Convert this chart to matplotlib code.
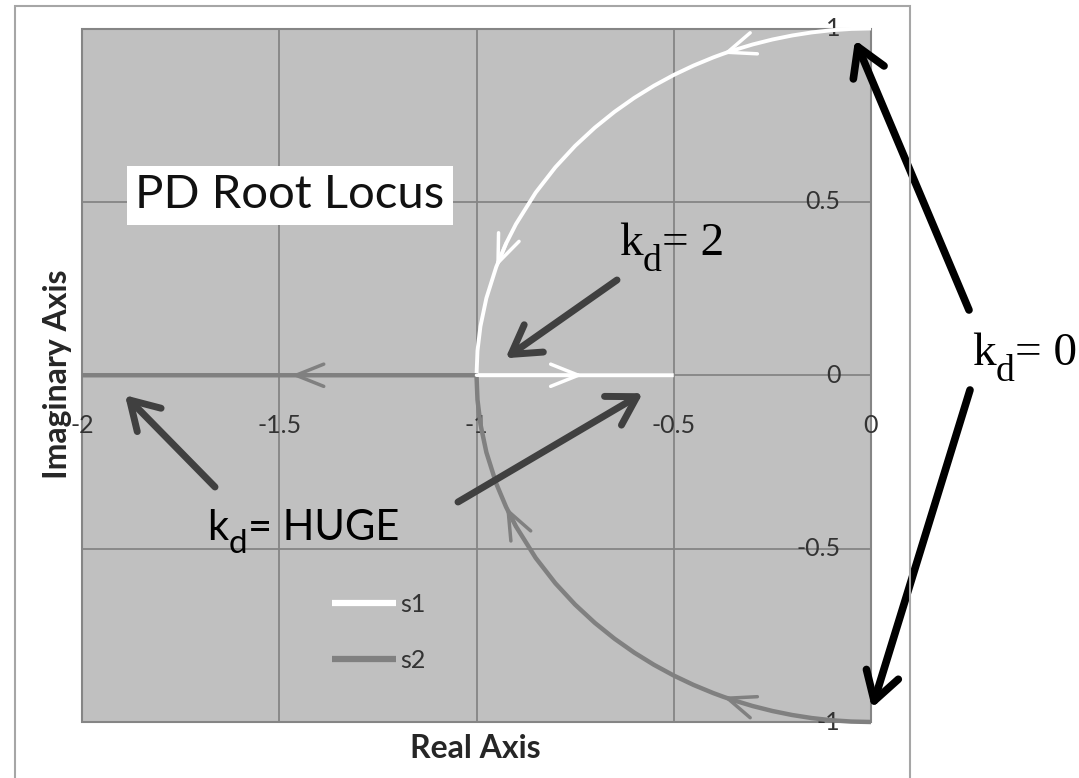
import matplotlib.pyplot as plt
from matplotlib.patches import Rectangle
from matplotlib.transforms import offset_copy

W, H = 1079, 778

# PD root locus: poles of s^2 + kd*s + 1 = 0 for a range of derivative gains
kd = [0, 0.1, 0.2, 0.3, 0.4, 0.5, 0.6, 0.7, 0.75, 0.8, 0.9, 1.0, 1.1, 1.2, 1.3, 1.4,
      1.5, 1.6, 1.7, 1.8, 1.85, 1.9, 1.95, 1.98, 1.995, 2.0,
      2.1, 2.15, 2.2, 2.3, 2.4, 2.5]
s1_re = [0, -0.05, -0.1, -0.15, -0.2, -0.25, -0.3, -0.35, -0.375, -0.4, -0.45, -0.5,
         -0.55, -0.6, -0.65, -0.7, -0.75, -0.8, -0.85, -0.9, -0.925, -0.95, -0.975,
         -0.99, -0.9975, -1.0,
         -0.7298, -0.6805, -0.6417, -0.5821, -0.5367, -0.5]
s1_im = [1.0, 0.99875, 0.99499, 0.98869, 0.9798, 0.96825, 0.95394, 0.93675, 0.92702,
         0.91652, 0.89303, 0.86603, 0.83516, 0.8, 0.75993, 0.71414, 0.66144, 0.6,
         0.52678, 0.43589, 0.37997, 0.31225, 0.2222, 0.14107, 0.07067, 0,
         0, 0, 0, 0, 0, 0]
s2_re = [0, -0.05, -0.1, -0.15, -0.2, -0.25, -0.3, -0.35, -0.375, -0.4, -0.45, -0.5,
         -0.55, -0.6, -0.65, -0.7, -0.75, -0.8, -0.85, -0.9, -0.925, -0.95, -0.975,
         -0.99, -0.9975, -1.0,
         -1.3702, -1.4695, -1.5583, -1.7179, -1.8633, -2.0]
s2_im = [-1.0, -0.99875, -0.99499, -0.98869, -0.9798, -0.96825, -0.95394, -0.93675,
         -0.92702, -0.91652, -0.89303, -0.86603, -0.83516, -0.8, -0.75993, -0.71414,
         -0.66144, -0.6, -0.52678, -0.43589, -0.37997, -0.31225, -0.2222, -0.14107,
         -0.07067, 0,
         0, 0, 0, 0, 0, 0]

# direction arrows along each locus (index pairs: from -> to)
s1_marks = [(7, 8), (20, 21), (25, 26)]
s2_marks = [(7, 8), (19, 20), (26, 27)]

x_ticks = [-2, -1.5, -1, -0.5, 0]
x_labels = ["-2", "-1.5", "-1", "-0.5", "0"]
y_ticks = [1, 0.5, 0, -0.5, -1]
y_labels = ["1", "0.5", "0", "-0.5", "-1"]

plt.rcParams["font.family"] = ["Lato", "DejaVu Sans"]

S1_COL = "white"
S2_COL = "#808080"
ANN_COL = "#404040"
TXT_COL = "#333333"


def fpos(x, y):
    # picture pixels (top-left origin) -> figure fraction
    return x / W, 1 - y / H


fig = plt.figure(figsize=(W / 100, H / 100), dpi=100)
ax = fig.add_axes([82 / W, 1 - 722 / H, 789 / W, 693.5 / H])

# chart area frame
fig.add_artist(Rectangle((15 / W, -0.05), 895 / W, 1.05 - 6 / H, transform=fig.transFigure,
                         fill=False, edgecolor="#a6a6a6", lw=1.5))

ax.set_facecolor("#c0c0c0")
ax.patch.set_edgecolor("#858585")
ax.patch.set_linewidth(1.5)
ax.set_xlim(-2, 0)
ax.set_ylim(-1, 1)
ax.set_axisbelow(True)
ax.grid(True, color="#858585", lw=1.3)

ax.plot(s1_re, s1_im, color=S1_COL, lw=2.8, label="s1", clip_on=False, solid_capstyle="butt")
ax.plot(s2_re, s2_im, color=S2_COL, lw=3.2, label="s2", clip_on=False, solid_capstyle="butt")

for xs, ys, marks, col in [(s1_re, s1_im, s1_marks, S1_COL), (s2_re, s2_im, s2_marks, S2_COL)]:
    for a, b in marks:
        ax.annotate("", xy=(xs[b], ys[b]), xytext=(xs[a], ys[a]),
                    arrowprops=dict(arrowstyle="->,head_length=1.0,head_width=0.4",
                                    color=col, lw=2.5, mutation_scale=20,
                                    shrinkA=0, shrinkB=0))

# axes cross at the origin like the Excel chart
for side in ["top", "right", "left", "bottom"]:
    ax.spines[side].set_color("none")
ax.spines["left"].set_position(("data", 0))
ax.spines["bottom"].set_position(("data", 0))
ax.set_xticks(x_ticks)
ax.set_xticklabels(x_labels)
ax.set_yticks(y_ticks)
ax.set_yticklabels(y_labels)
ax.tick_params(axis="x", length=0, pad=28, labelsize=18, labelcolor=TXT_COL)
ax.tick_params(axis="y", length=0, pad=22, labelsize=18, labelcolor=TXT_COL)
for lab in ax.get_yticklabels():
    lab.set_va("center")

leg = ax.legend(loc="upper left", bbox_to_anchor=fpos(332, 593), bbox_transform=fig.transFigure,
                frameon=False, borderpad=0, borderaxespad=0, handlelength=2.56,
                handletextpad=0.15, labelspacing=1.3, fontsize=18, labelcolor=TXT_COL)
for ln in leg.get_lines():
    ln.set_linewidth(4.5)

fig.text(*fpos(475, 749), "Real Axis", ha="center", va="center", fontsize=23,
         fontweight="bold", color="#262626")
fig.text(*fpos(58, 374), "Imaginary Axis", ha="center", va="center", rotation=90,
         fontsize=23, fontweight="bold", color="#262626")

fig.text(*fpos(290, 195), "PD Root Locus", ha="center", va="center", fontsize=34,
         color="#111111", bbox=dict(facecolor="white", edgecolor="none", pad=6))


def kd_label(x, y, rest, family, size, drop):
    # "k" + lowered subscript "d" + rest, baseline at picture pixel (x, y)
    tk = fig.text(*fpos(x, y), "k", family=family, fontsize=size, ha="left", va="baseline")
    td = ax.annotate("d", xy=(1, 0), xycoords=tk, xytext=(0.3, -drop), textcoords="offset points",
                     family=family, fontsize=size * 0.8, ha="left", va="baseline")
    ax.annotate(rest, xy=(1, 0), xycoords=(td, tk), xytext=(0.3, 0), textcoords="offset points",
                family=family, fontsize=size, ha="left", va="bottom")


kd_label(619, 255, "= 2", "Liberation Serif", 34, 4)
kd_label(972, 365, "= 0", "Liberation Serif", 34, 4)
kd_label(207, 540, "= HUGE", "Lato", 30, 4)

# annotation arrows: tip = a locus point plus a small pixel offset, tail in picture pixels
ann = [
    (s1_re[25], s1_im[25], 29, 17, (617, 280), ANN_COL, 5),
    (s2_re[-1], s2_im[-1], 43, -20, (215, 487), ANN_COL, 5),
    (s1_re[-1], s1_im[-1], -31, -18, (458, 502), ANN_COL, 5),
    (s1_re[0], s1_im[0], -16, -11.5, (969, 310), "black", 5.5),
    (s2_re[0], s2_im[0], 1, 14, (970, 390), "black", 5.5),
]
for x, y, dx, dy, tail, col, lw in ann:
    ax.annotate("", xy=(x, y), xycoords=offset_copy(ax.transData, fig=fig, x=dx, y=dy, units="dots"),
                xytext=fpos(*tail), textcoords="figure fraction", annotation_clip=False,
                arrowprops=dict(arrowstyle="->,head_length=1.0,head_width=0.6", color=col,
                                lw=lw, mutation_scale=20, shrinkA=0, shrinkB=0))

fig.savefig("out.png", dpi=100)
